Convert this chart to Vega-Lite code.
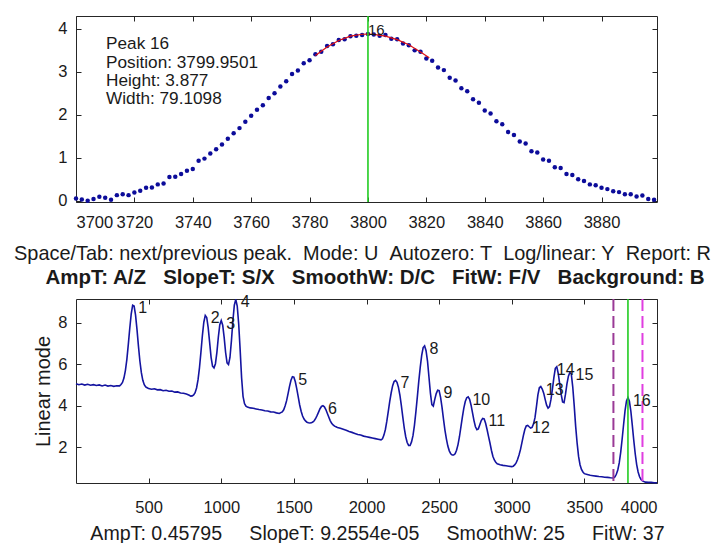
{
  "$schema": "https://vega.github.io/schema/vega-lite/v6.json",
  "padding": {"left": 12, "top": 14, "right": 2, "bottom": 0},
  "bounds": "flush",
  "spacing": 97,
  "config": {
    "font": "Liberation Sans",
    "view": {"stroke": "#262626", "strokeWidth": 1},
    "axis": {"domain": false, "grid": false, "tickColor": "#262626", "tickSize": -5, "tickWidth": 1, "labelFontSize": 16.5, "labelColor": "#1a1a1a", "titleColor": "#1a1a1a", "titleFontWeight": "normal"}
  },
  "vconcat": [
    {
      "width": 581,
      "height": 186,
      "resolve": {"axis": {"x": "independent", "y": "independent"}},
      "layer": [
        {
          "data": {"values": [
            {"x":3700,"y":0.05},{"x":3702,"y":0.03},{"x":3704,"y":0.00},{"x":3706,"y":0.04},{"x":3708,"y":0.09},{"x":3710,"y":0.07},{"x":3712,"y":0.02},{"x":3714,"y":0.13},{"x":3716,"y":0.15},{"x":3718,"y":0.13},
            {"x":3720,"y":0.19},{"x":3722,"y":0.23},{"x":3724,"y":0.30},{"x":3726,"y":0.31},{"x":3728,"y":0.38},{"x":3730,"y":0.40},{"x":3732,"y":0.55},{"x":3734,"y":0.56},{"x":3736,"y":0.62},{"x":3738,"y":0.70},
            {"x":3740,"y":0.74},{"x":3742,"y":0.93},{"x":3744,"y":0.98},{"x":3746,"y":1.10},{"x":3748,"y":1.20},{"x":3750,"y":1.31},{"x":3752,"y":1.44},{"x":3754,"y":1.57},{"x":3756,"y":1.69},{"x":3758,"y":1.84},
            {"x":3760,"y":1.98},{"x":3762,"y":2.12},{"x":3764,"y":2.22},{"x":3766,"y":2.39},{"x":3768,"y":2.50},{"x":3770,"y":2.66},{"x":3772,"y":2.78},{"x":3774,"y":2.95},{"x":3776,"y":3.03},{"x":3778,"y":3.20},
            {"x":3780,"y":3.27},{"x":3782,"y":3.41},{"x":3784,"y":3.47},{"x":3786,"y":3.60},{"x":3788,"y":3.64},{"x":3790,"y":3.74},{"x":3792,"y":3.76},{"x":3794,"y":3.83},{"x":3796,"y":3.84},{"x":3798,"y":3.86},
            {"x":3800,"y":3.88},{"x":3802,"y":3.87},{"x":3804,"y":3.84},{"x":3806,"y":3.86},{"x":3808,"y":3.77},{"x":3810,"y":3.76},{"x":3812,"y":3.66},{"x":3814,"y":3.62},{"x":3816,"y":3.50},{"x":3818,"y":3.47},
            {"x":3820,"y":3.31},{"x":3822,"y":3.26},{"x":3824,"y":3.10},{"x":3826,"y":3.04},{"x":3828,"y":2.86},{"x":3830,"y":2.80},{"x":3832,"y":2.62},{"x":3834,"y":2.55},{"x":3836,"y":2.36},{"x":3838,"y":2.28},
            {"x":3840,"y":2.10},{"x":3842,"y":2.03},{"x":3844,"y":1.85},{"x":3846,"y":1.78},{"x":3848,"y":1.60},{"x":3850,"y":1.53},{"x":3852,"y":1.38},{"x":3854,"y":1.33},{"x":3856,"y":1.15},{"x":3858,"y":1.12},
            {"x":3860,"y":0.96},{"x":3862,"y":0.93},{"x":3864,"y":0.78},{"x":3866,"y":0.76},{"x":3868,"y":0.62},{"x":3870,"y":0.60},{"x":3872,"y":0.50},{"x":3874,"y":0.46},{"x":3876,"y":0.38},{"x":3878,"y":0.36},
            {"x":3880,"y":0.30},{"x":3882,"y":0.27},{"x":3884,"y":0.22},{"x":3886,"y":0.20},{"x":3888,"y":0.15},{"x":3890,"y":0.15},{"x":3892,"y":0.10},{"x":3894,"y":0.12},{"x":3896,"y":0.04},{"x":3898,"y":0.02}
          ]},
          "mark": {"type": "circle", "size": 20, "color": "#0c0c9a", "opacity": 1},
          "encoding": {
            "x": {"field": "x", "type": "quantitative", "scale": {"domain": [3700, 3899], "nice": false, "zero": false},
                  "axis": {"orient": "bottom", "values": [3700,3720,3740,3760,3780,3800,3820,3840,3860,3880], "format": "d", "labelPadding": 17,
                           "title": "Space/Tab: next/previous peak.\u00a0\u00a0Mode: U\u00a0\u00a0Autozero: T\u00a0\u00a0Log/linear: Y\u00a0\u00a0Report: R",
                           "titleX": 286, "titleY": 57.5, "titleBaseline": "alphabetic", "titleAlign": "center", "titleFontSize": 19.93}},
            "y": {"field": "y", "type": "quantitative", "scale": {"domain": [-0.03, 4.3], "nice": false, "zero": false},
                  "axis": {"orient": "left", "values": [0,1,2,3,4], "labelPadding": 14, "title": null}}
          }
        },
        {
          "data": {"values": [
            {"x":3782,"y":3.38},{"x":3786,"y":3.58},{"x":3790,"y":3.73},{"x":3794,"y":3.83},{"x":3798,"y":3.875},{"x":3800,"y":3.877},{"x":3802,"y":3.87},{"x":3806,"y":3.83},{"x":3810,"y":3.75},{"x":3814,"y":3.63},{"x":3818,"y":3.46},{"x":3821,"y":3.33}
          ]},
          "mark": {"type": "line", "color": "#e01010", "strokeWidth": 1.2},
          "encoding": {
            "x": {"field": "x", "type": "quantitative", "scale": {"domain": [3700, 3899], "nice": false, "zero": false},
                  "axis": {"orient": "top", "values": [3700,3720,3740,3760,3780,3800,3820,3840,3860,3880], "labels": false, "title": null}},
            "y": {"field": "y", "type": "quantitative", "scale": {"domain": [-0.03, 4.3], "nice": false, "zero": false},
                  "axis": {"orient": "right", "values": [0,1,2,3,4], "labels": false, "title": null}}
          }
        },
        {
          "data": {"values": [{"x": 3800}]},
          "mark": {"type": "rule", "color": "#22cc22", "strokeWidth": 1.6},
          "encoding": {
            "x": {"field": "x", "type": "quantitative", "scale": {"domain": [3700, 3899], "nice": false, "zero": false}, "axis": null}
          }
        },
        {
          "data": {"values": [{"x": 3800, "y": 3.877, "label": "16"}]},
          "mark": {"type": "text", "align": "left", "baseline": "middle", "dx": 0, "dy": -4, "fontSize": 15, "color": "#1a1a1a"},
          "encoding": {
            "x": {"field": "x", "type": "quantitative", "scale": {"domain": [3700, 3899], "nice": false, "zero": false}, "axis": null},
            "y": {"field": "y", "type": "quantitative", "scale": {"domain": [-0.03, 4.3], "nice": false, "zero": false}, "axis": null},
            "text": {"field": "label"}
          }
        },
        {
          "data": {"values": [{"x": 3710.3, "y": 3.85, "label": "Peak 16\nPosition: 3799.9501\nHeight: 3.877\nWidth: 79.1098"}]},
          "mark": {"type": "text", "align": "left", "baseline": "top", "fontSize": 17.2, "lineHeight": 18.3, "lineBreak": "\n", "color": "#1a1a1a"},
          "encoding": {
            "x": {"field": "x", "type": "quantitative", "scale": {"domain": [3700, 3899], "nice": false, "zero": false}, "axis": null},
            "y": {"field": "y", "type": "quantitative", "scale": {"domain": [-0.03, 4.3], "nice": false, "zero": false}, "axis": null},
            "text": {"field": "label"}
          }
        }
      ]
    },
    {
      "width": 581,
      "height": 184,
      "resolve": {"axis": {"x": "independent", "y": "independent"}},
      "layer": [
        {
          "data": {"values": [
            {"x":0,"y":5.06},{"x":20,"y":5.01},{"x":40,"y":5.04},{"x":60,"y":4.99},{"x":80,"y":5.03},{"x":100,"y":4.98},{"x":120,"y":5.01},{"x":140,"y":4.97},{"x":160,"y":5.00},{"x":180,"y":4.95},
            {"x":200,"y":4.99},{"x":220,"y":4.94},{"x":240,"y":4.97},{"x":260,"y":4.93},{"x":280,"y":4.96},{"x":300,"y":4.95},{"x":310,"y":5.02},{"x":320,"y":5.12},{"x":330,"y":5.33},{"x":340,"y":5.69},
            {"x":350,"y":6.22},{"x":360,"y":6.94},{"x":370,"y":7.72},{"x":380,"y":8.41},{"x":390,"y":8.84},{"x":400,"y":8.80},{"x":410,"y":8.36},{"x":420,"y":7.66},{"x":430,"y":6.86},{"x":440,"y":6.14},
            {"x":450,"y":5.59},{"x":460,"y":5.22},{"x":470,"y":5.01},{"x":480,"y":4.90},{"x":490,"y":4.86},{"x":500,"y":4.82},{"x":520,"y":4.79},{"x":540,"y":4.81},{"x":560,"y":4.76},{"x":580,"y":4.77},
            {"x":600,"y":4.72},{"x":620,"y":4.74},{"x":640,"y":4.69},{"x":660,"y":4.70},{"x":680,"y":4.65},{"x":700,"y":4.66},{"x":720,"y":4.61},{"x":740,"y":4.60},{"x":760,"y":4.56},{"x":780,"y":4.50},
            {"x":790,"y":4.46},{"x":800,"y":4.47},{"x":810,"y":4.52},{"x":820,"y":4.62},{"x":830,"y":4.85},{"x":840,"y":5.24},{"x":850,"y":5.82},{"x":860,"y":6.57},{"x":870,"y":7.37},{"x":880,"y":8.02},
            {"x":890,"y":8.35},{"x":900,"y":8.25},{"x":910,"y":7.76},{"x":920,"y":7.05},{"x":930,"y":6.33},{"x":940,"y":5.90},{"x":950,"y":5.82},{"x":960,"y":6.02},{"x":970,"y":6.57},{"x":980,"y":7.31},
            {"x":990,"y":7.90},{"x":1000,"y":8.10},{"x":1010,"y":7.88},{"x":1020,"y":7.29},{"x":1030,"y":6.56},{"x":1040,"y":6.06},{"x":1050,"y":5.98},{"x":1060,"y":6.32},{"x":1070,"y":7.12},{"x":1080,"y":8.08},
            {"x":1090,"y":8.84},{"x":1100,"y":9.12},{"x":1110,"y":8.80},{"x":1120,"y":7.95},{"x":1130,"y":6.70},{"x":1140,"y":5.35},{"x":1150,"y":4.45},{"x":1160,"y":4.10},{"x":1170,"y":3.97},{"x":1180,"y":3.93},
            {"x":1200,"y":3.89},{"x":1220,"y":3.87},{"x":1240,"y":3.84},{"x":1260,"y":3.81},{"x":1280,"y":3.79},{"x":1300,"y":3.75},{"x":1320,"y":3.74},{"x":1340,"y":3.70},{"x":1360,"y":3.69},{"x":1380,"y":3.65},
            {"x":1400,"y":3.62},{"x":1410,"y":3.66},{"x":1420,"y":3.70},{"x":1430,"y":3.80},{"x":1440,"y":3.99},{"x":1450,"y":4.24},{"x":1460,"y":4.58},{"x":1470,"y":4.93},{"x":1480,"y":5.22},{"x":1490,"y":5.39},
            {"x":1500,"y":5.37},{"x":1510,"y":5.15},{"x":1520,"y":4.81},{"x":1530,"y":4.42},{"x":1540,"y":4.03},{"x":1550,"y":3.73},{"x":1560,"y":3.50},{"x":1570,"y":3.35},{"x":1580,"y":3.26},{"x":1590,"y":3.20},
            {"x":1600,"y":3.17},{"x":1610,"y":3.16},{"x":1620,"y":3.17},{"x":1630,"y":3.21},{"x":1640,"y":3.27},{"x":1650,"y":3.38},{"x":1660,"y":3.53},{"x":1670,"y":3.69},{"x":1680,"y":3.85},{"x":1690,"y":3.96},
            {"x":1700,"y":4.00},{"x":1710,"y":3.94},{"x":1720,"y":3.81},{"x":1730,"y":3.63},{"x":1740,"y":3.45},{"x":1750,"y":3.28},{"x":1760,"y":3.15},{"x":1770,"y":3.07},{"x":1780,"y":3.01},{"x":1790,"y":2.98},
            {"x":1800,"y":2.95},{"x":1820,"y":2.91},{"x":1840,"y":2.86},{"x":1860,"y":2.81},{"x":1880,"y":2.75},{"x":1900,"y":2.71},{"x":1920,"y":2.66},{"x":1940,"y":2.61},{"x":1960,"y":2.58},{"x":1980,"y":2.53},
            {"x":2000,"y":2.50},{"x":2020,"y":2.47},{"x":2040,"y":2.44},{"x":2060,"y":2.41},{"x":2080,"y":2.38},{"x":2100,"y":2.35},{"x":2110,"y":2.40},{"x":2120,"y":2.58},{"x":2130,"y":2.85},{"x":2140,"y":3.25},
            {"x":2150,"y":3.72},{"x":2160,"y":4.20},{"x":2170,"y":4.62},{"x":2180,"y":4.96},{"x":2190,"y":5.16},{"x":2200,"y":5.22},{"x":2210,"y":5.12},{"x":2220,"y":4.88},{"x":2230,"y":4.50},{"x":2240,"y":4.00},
            {"x":2250,"y":3.45},{"x":2260,"y":2.92},{"x":2270,"y":2.50},{"x":2280,"y":2.22},{"x":2290,"y":2.08},{"x":2300,"y":2.08},{"x":2310,"y":2.25},{"x":2320,"y":2.55},{"x":2330,"y":3.05},{"x":2340,"y":3.70},
            {"x":2350,"y":4.42},{"x":2360,"y":5.18},{"x":2370,"y":5.85},{"x":2380,"y":6.42},{"x":2390,"y":6.80},{"x":2400,"y":6.88},{"x":2410,"y":6.65},{"x":2420,"y":6.15},{"x":2430,"y":5.38},{"x":2440,"y":4.60},
            {"x":2450,"y":4.05},{"x":2460,"y":3.98},{"x":2470,"y":4.30},{"x":2480,"y":4.58},{"x":2490,"y":4.74},{"x":2500,"y":4.72},{"x":2510,"y":4.40},{"x":2520,"y":3.92},{"x":2530,"y":3.35},{"x":2540,"y":2.82},
            {"x":2550,"y":2.40},{"x":2560,"y":2.05},{"x":2570,"y":1.82},{"x":2580,"y":1.68},{"x":2590,"y":1.62},{"x":2600,"y":1.62},{"x":2610,"y":1.68},{"x":2620,"y":1.85},{"x":2630,"y":2.12},{"x":2640,"y":2.50},
            {"x":2650,"y":2.98},{"x":2660,"y":3.45},{"x":2670,"y":3.88},{"x":2680,"y":4.20},{"x":2690,"y":4.38},{"x":2700,"y":4.42},{"x":2710,"y":4.30},{"x":2720,"y":4.02},{"x":2730,"y":3.65},{"x":2740,"y":3.28},
            {"x":2750,"y":2.98},{"x":2760,"y":2.84},{"x":2770,"y":2.88},{"x":2780,"y":3.08},{"x":2790,"y":3.28},{"x":2800,"y":3.38},{"x":2810,"y":3.36},{"x":2820,"y":3.15},{"x":2830,"y":2.85},{"x":2840,"y":2.52},
            {"x":2850,"y":2.20},{"x":2860,"y":1.85},{"x":2870,"y":1.56},{"x":2880,"y":1.38},{"x":2890,"y":1.27},{"x":2900,"y":1.20},{"x":2920,"y":1.15},{"x":2940,"y":1.12},{"x":2960,"y":1.10},{"x":2980,"y":1.08},
            {"x":3000,"y":1.06},{"x":3010,"y":1.08},{"x":3020,"y":1.14},{"x":3030,"y":1.24},{"x":3040,"y":1.40},{"x":3050,"y":1.62},{"x":3060,"y":1.88},{"x":3070,"y":2.22},{"x":3080,"y":2.55},{"x":3090,"y":2.85},
            {"x":3100,"y":3.02},{"x":3110,"y":3.05},{"x":3120,"y":2.98},{"x":3130,"y":2.92},{"x":3140,"y":2.95},{"x":3150,"y":3.12},{"x":3160,"y":3.42},{"x":3170,"y":3.95},{"x":3180,"y":4.52},{"x":3190,"y":4.86},
            {"x":3200,"y":4.92},{"x":3210,"y":4.80},{"x":3220,"y":4.60},{"x":3230,"y":4.30},{"x":3240,"y":4.02},{"x":3250,"y":3.88},{"x":3260,"y":3.95},{"x":3270,"y":4.30},{"x":3280,"y":4.80},{"x":3290,"y":5.35},
            {"x":3300,"y":5.80},{"x":3310,"y":5.88},{"x":3320,"y":5.55},{"x":3330,"y":5.05},{"x":3340,"y":4.55},{"x":3350,"y":4.18},{"x":3360,"y":4.15},{"x":3370,"y":4.55},{"x":3380,"y":5.05},{"x":3390,"y":5.42},
            {"x":3400,"y":5.60},{"x":3410,"y":5.52},{"x":3420,"y":4.90},{"x":3430,"y":4.00},{"x":3440,"y":3.00},{"x":3450,"y":2.20},{"x":3460,"y":1.55},{"x":3470,"y":1.15},{"x":3480,"y":0.92},{"x":3490,"y":0.80},
            {"x":3500,"y":0.72},{"x":3520,"y":0.68},{"x":3540,"y":0.64},{"x":3560,"y":0.62},{"x":3580,"y":0.60},{"x":3600,"y":0.58},{"x":3620,"y":0.57},{"x":3640,"y":0.55},{"x":3660,"y":0.54},{"x":3680,"y":0.52},
            {"x":3700,"y":0.51},{"x":3710,"y":0.56},{"x":3720,"y":0.69},{"x":3730,"y":0.90},{"x":3740,"y":1.24},{"x":3750,"y":1.75},{"x":3760,"y":2.39},{"x":3770,"y":3.09},{"x":3780,"y":3.76},{"x":3790,"y":4.23},
            {"x":3800,"y":4.39},{"x":3810,"y":4.21},{"x":3820,"y":3.73},{"x":3830,"y":3.05},{"x":3840,"y":2.33},{"x":3850,"y":1.68},{"x":3860,"y":1.16},{"x":3870,"y":0.80},{"x":3880,"y":0.57},{"x":3890,"y":0.44},
            {"x":3900,"y":0.37},{"x":3920,"y":0.31},{"x":3940,"y":0.30},{"x":3960,"y":0.30},{"x":3980,"y":0.28},{"x":4000,"y":0.28}
          ]},
          "mark": {"type": "line", "color": "#1414a0", "strokeWidth": 1.6},
          "encoding": {
            "x": {"field": "x", "type": "quantitative", "scale": {"domain": [0, 4000], "nice": false, "zero": false},
                  "axis": {"orient": "bottom", "values": [500,1000,1500,2000,2500,3000,3500,4000], "format": "d", "labelPadding": 21,
                           "title": "AmpT: 0.45795\u00a0\u00a0\u00a0\u00a0\u00a0SlopeT: 9.2554e-05\u00a0\u00a0\u00a0\u00a0\u00a0SmoothW: 25\u00a0\u00a0\u00a0\u00a0\u00a0FitW: 37",
                           "titleX": 301, "titleY": 56.3, "titleBaseline": "alphabetic", "titleAlign": "center", "titleFontSize": 19.6}},
            "y": {"field": "y", "type": "quantitative", "scale": {"domain": [0.27, 9.14], "nice": false, "zero": false},
                  "axis": {"orient": "left", "values": [2,4,6,8], "labelPadding": 14, "title": "Linear mode",
                           "titleX": -27, "titleY": 92, "titleAngle": 270, "titleBaseline": "alphabetic", "titleAlign": "center", "titleFontSize": 20}}
          }
        },
        {
          "data": {"values": [{"x": 3700, "c": "left"}, {"x": 3900, "c": "right"}]},
          "mark": {"type": "rule", "strokeWidth": 2, "strokeDash": [12, 5]},
          "encoding": {
            "x": {"field": "x", "type": "quantitative", "scale": {"domain": [0, 4000], "nice": false, "zero": false},
                  "axis": {"orient": "top", "values": [500,1000,1500,2000,2500,3000,3500,4000], "labels": false,
                           "title": "AmpT: A/Z\u00a0\u00a0\u00a0SlopeT: S/X\u00a0\u00a0\u00a0SmoothW: D/C\u00a0\u00a0\u00a0FitW: F/V\u00a0\u00a0\u00a0Background: B",
                           "titleX": 298.5, "titleY": -16, "titleBaseline": "alphabetic", "titleAlign": "center", "titleFontSize": 20.5, "titleFontWeight": "bold"}},
            "color": {"field": "c", "type": "nominal", "scale": {"domain": ["left", "right"], "range": ["#9a3a96", "#e03ee0"]}, "legend": null}
          }
        },
        {
          "data": {"values": [{"x": 3800}]},
          "mark": {"type": "rule", "color": "#22cc22", "strokeWidth": 1.6},
          "encoding": {
            "x": {"field": "x", "type": "quantitative", "scale": {"domain": [0, 4000], "nice": false, "zero": false}, "axis": null}
          }
        },
        {
          "data": {"values": [
            {"x":395,"y":8.84,"label":"1"},{"x":893,"y":8.35,"label":"2"},{"x":1000,"y":8.10,"label":"3"},{"x":1100,"y":9.12,"label":"4"},
            {"x":1495,"y":5.39,"label":"5"},{"x":1700,"y":4.00,"label":"6"},{"x":2200,"y":5.22,"label":"7"},{"x":2400,"y":6.88,"label":"8"},
            {"x":2495,"y":4.74,"label":"9"},{"x":2695,"y":4.42,"label":"10"},{"x":2805,"y":3.38,"label":"11"},{"x":3105,"y":3.05,"label":"12"},
            {"x":3200,"y":4.92,"label":"13"},{"x":3276,"y":5.88,"label":"14"},{"x":3405,"y":5.60,"label":"15"},{"x":3800,"y":4.39,"label":"16"}
          ]},
          "mark": {"type": "text", "align": "left", "baseline": "middle", "dx": 5, "dy": 3, "fontSize": 16, "color": "#1a1a1a"},
          "encoding": {
            "x": {"field": "x", "type": "quantitative", "scale": {"domain": [0, 4000], "nice": false, "zero": false}, "axis": null},
            "y": {"field": "y", "type": "quantitative", "scale": {"domain": [0.27, 9.14], "nice": false, "zero": false},
                  "axis": {"orient": "right", "values": [2,4,6,8], "labels": false, "title": null}},
            "text": {"field": "label"}
          }
        }
      ]
    }
  ]
}
